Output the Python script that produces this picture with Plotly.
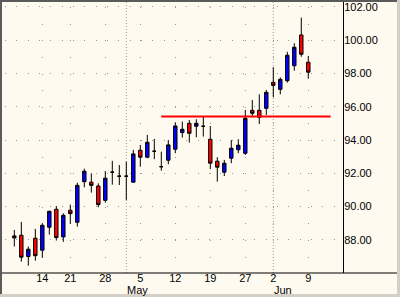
import plotly.graph_objects as go

# ---------------- data ----------------
dates = [
    "2003-04-08", "2003-04-09", "2003-04-10", "2003-04-11",
    "2003-04-14", "2003-04-15", "2003-04-16", "2003-04-17",
    "2003-04-21", "2003-04-22", "2003-04-23", "2003-04-24", "2003-04-25",
    "2003-04-28", "2003-04-29", "2003-04-30", "2003-05-01", "2003-05-02",
    "2003-05-05", "2003-05-06", "2003-05-07", "2003-05-08", "2003-05-09",
    "2003-05-12", "2003-05-13", "2003-05-14", "2003-05-15", "2003-05-16",
    "2003-05-19", "2003-05-20", "2003-05-21", "2003-05-22", "2003-05-23",
    "2003-05-27", "2003-05-28", "2003-05-29", "2003-05-30",
    "2003-06-02", "2003-06-03", "2003-06-04", "2003-06-05", "2003-06-06",
    "2003-06-09",
]
opens = [88.24, 88.28, 87.00, 88.10, 87.38, 88.76, 89.84, 88.18, 89.78, 89.06,
         91.50, 91.47, 91.24, 90.38, 92.07, 91.83, 91.83, 91.47, 93.39, 92.97,
         93.33, 92.40, 92.79, 93.45, 94.45, 95.01, 94.83, 94.83, 94.05, 92.73,
         92.07, 92.91, 93.42, 93.21, 95.79, 95.79, 95.91, 97.47, 97.05, 97.57,
         98.47, 100.32, 98.68]
highs = [88.60, 89.08, 87.60, 88.66, 89.00, 89.75, 90.04, 89.60, 90.12, 91.44,
         92.28, 92.00, 91.40, 92.14, 92.75, 92.50, 92.70, 93.41, 93.71, 94.31,
         94.07, 93.30, 94.00, 95.07, 95.11, 95.21, 95.25, 95.41, 94.85, 92.97,
         92.81, 94.00, 94.05, 95.81, 96.41, 96.75, 97.01, 98.38, 97.77, 99.31,
         99.82, 101.36, 99.06]
lows = [87.60, 86.69, 86.45, 86.75, 86.93, 88.32, 87.96, 87.88, 88.96, 88.80,
        91.16, 90.84, 89.96, 90.24, 91.32, 91.30, 90.40, 91.45, 92.40, 92.91,
        92.85, 92.16, 92.55, 93.21, 94.15, 93.85, 94.17, 94.21, 92.26, 91.50,
        91.84, 92.61, 93.21, 93.11, 95.37, 94.97, 95.51, 96.57, 96.75, 97.45,
        98.17, 99.01, 97.69]
closes = [88.12, 86.96, 87.44, 87.05, 88.88, 89.72, 88.14, 89.48, 89.58, 91.28,
          92.13, 91.28, 90.12, 91.71, 92.07, 91.83, 91.83, 93.17, 92.97, 93.87,
          93.33, 92.40, 93.71, 94.85, 94.65, 94.41, 95.01, 94.83, 92.61, 92.37,
          92.61, 93.51, 93.69, 95.31, 95.61, 95.37, 96.87, 97.29, 97.65, 99.10,
          99.58, 99.16, 98.08]

tick_dates = ["2003-04-14", "2003-04-21", "2003-04-28", "2003-05-05", "2003-05-12",
              "2003-05-19", "2003-05-27", "2003-06-02", "2003-06-09"]
tick_labels = ["14", "21", "28", "5", "12", "19", "27", "2", "9"]
month_dates = ["2003-05-01", "2003-06-02"]
month_labels = ["May", "Jun"]
y_ticks = [88, 90, 92, 94, 96, 98, 100, 102]

resist_x = [21, 45.2]        # bar-index positions of the horizontal line
resist_y = [95.42, 95.42]

# ---------------- figure ----------------
W, H = 400, 297
L, R, T, B = 2, 57, 2, 24
pw, ph = W - L - R, H - T - B

def px2x(px):
    return (px - L) / pw

def py2y(py):
    return (H - B - py) / ph

idx = list(range(len(dates)))
tickvals = [dates.index(d) for d in tick_dates]
monthvals = [dates.index(d) for d in month_dates]

BG = "#FFFAF0"
GRID = "#9A9A9A"
FONT = dict(family="Liberation Sans, Arial, sans-serif", size=11, color="black")

fig = go.Figure()
fig.add_trace(go.Candlestick(
    x=idx, open=opens, high=highs, low=lows, close=closes,
    increasing=dict(line=dict(color="black", width=1), fillcolor="#0000FF"),
    decreasing=dict(line=dict(color="black", width=1), fillcolor="#FF0000"),
    whiskerwidth=0, showlegend=False, hoverinfo="skip",
))
fig.add_trace(go.Scatter(
    x=resist_x, y=resist_y, mode="lines",
    line=dict(color="#FF0000", width=2), showlegend=False, hoverinfo="skip",
))

shapes = []
for mv in monthvals:
    shapes.append(dict(type="line", xref="x", yref="paper", x0=mv, x1=mv, y0=0, y1=1,
                       line=dict(color=GRID, width=1, dash="1px,2px"), layer="below"))
# x axis baseline spanning full width
shapes.append(dict(type="line", xref="paper", yref="paper", x0=px2x(0), x1=px2x(397),
                   y0=0, y1=0, line=dict(color="black", width=1)))
# frame (sunken border)
shapes.append(dict(type="rect", xref="paper", yref="paper", x0=px2x(0), x1=px2x(W),
                   y0=py2y(2), y1=py2y(0), fillcolor="#5A5A5A", line=dict(width=0)))
shapes.append(dict(type="rect", xref="paper", yref="paper", x0=px2x(0), x1=px2x(2),
                   y0=py2y(H), y1=py2y(0), fillcolor="#5A5A5A", line=dict(width=0)))
shapes.append(dict(type="rect", xref="paper", yref="paper", x0=px2x(0), x1=px2x(W),
                   y0=py2y(H), y1=py2y(294), fillcolor="#D4D0C8", line=dict(width=0)))
shapes.append(dict(type="rect", xref="paper", yref="paper", x0=px2x(397), x1=px2x(W),
                   y0=py2y(H), y1=py2y(0), fillcolor="#D4D0C8", line=dict(width=0)))

annotations = []
for mv, ml in zip(monthvals, month_labels):
    annotations.append(dict(x=mv - 0.2, xref="x", y=py2y(290), yref="paper",
                            text=ml, showarrow=False, xanchor="left", yanchor="middle",
                            font=FONT))

fig.update_layout(
    width=W, height=H, autosize=False,
    margin=dict(l=L, r=R, t=T, b=B, pad=0),
    paper_bgcolor=BG, plot_bgcolor=BG,
    font=FONT,
    showlegend=False,
    shapes=shapes, annotations=annotations,
    xaxis=dict(
        range=[-1.76, 46.96], tickmode="array", tickvals=tickvals, ticktext=tick_labels,
        showgrid=True, gridcolor=GRID, gridwidth=1, griddash="0px,5px,1px,10.64px",
        ticks="", showline=False, zeroline=False, rangeslider=dict(visible=False),
        tickfont=FONT, fixedrange=True, ticklabelstandoff=-3,
    ),
    yaxis=dict(
        side="right", range=[86.01, 102.30], tickmode="array", tickvals=y_ticks,
        tickformat=".2f", showgrid=True, gridcolor=GRID, gridwidth=1,
        griddash="0px,3px,1px,7.33px", showline=True, linecolor="black", linewidth=1,
        ticks="", zeroline=False, tickfont=FONT, fixedrange=True, ticklabelstandoff=-2,
    ),
)

fig.write_html("out.html")
